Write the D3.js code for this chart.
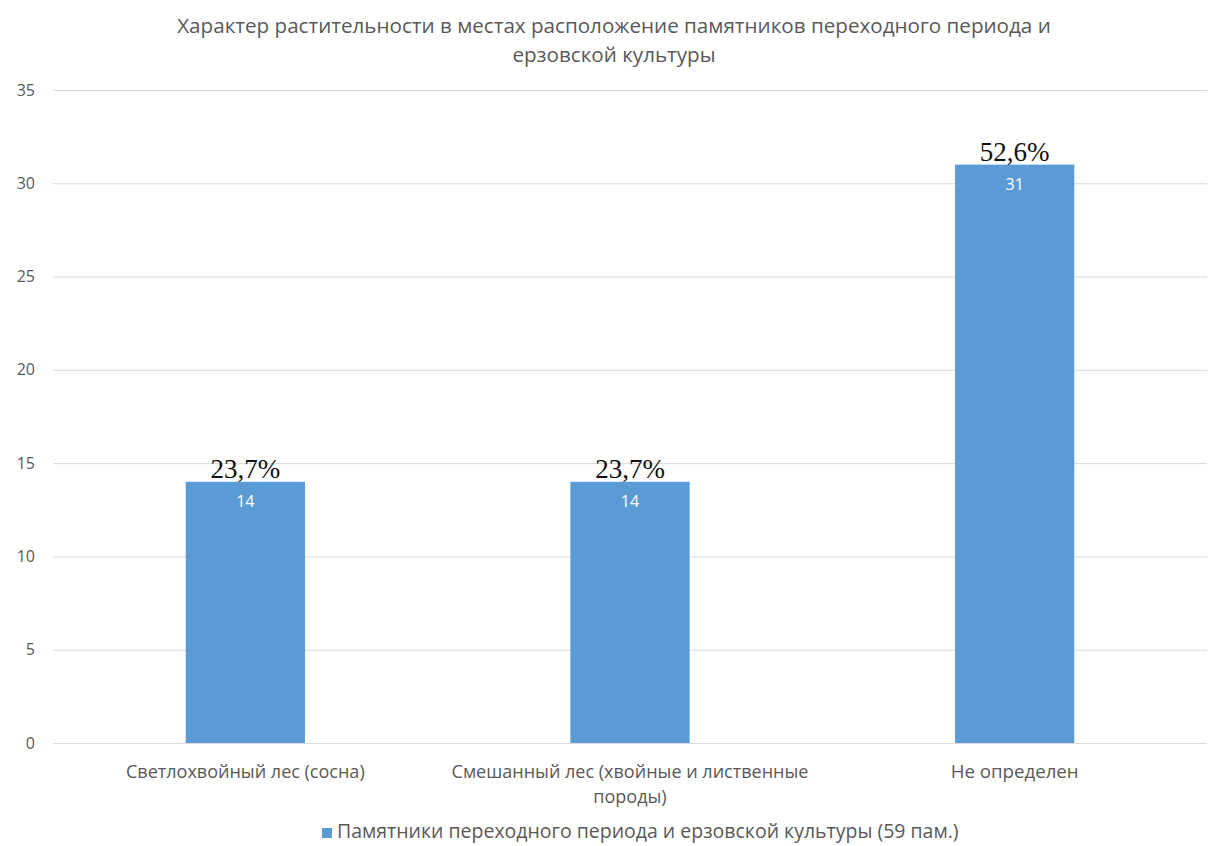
<!DOCTYPE html>
<html><head><meta charset="utf-8">
<script src="https://cdn.jsdelivr.net/npm/d3@7"></script>
<style>body{margin:0;background:#fff}</style>
</head><body>
<svg id="c" width="1218" height="846"></svg>
<script>
const categories = [["Светлохвойный лес (сосна)"], ["Смешанный лес (хвойные и лиственные", "породы)"], ["Не определен"]];
const values = [14, 14, 31];
const percents = ["23,7%", "23,7%", "52,6%"];
const yTicks = [0, 5, 10, 15, 20, 25, 30, 35];
const titleLines = ["Характер растительности в местах расположение памятников переходного периода и", "ерзовской культуры"];
const legendLabel = "Памятники переходного периода и ерзовской культуры (59 пам.)";

const svg = d3.select("#c");
const font = "'Open Sans', sans-serif";
const gray = "#595959";
const m = {l: 53, r: 1207, t: 90, b: 743};
const x = d3.scaleBand().domain(d3.range(values.length)).range([m.l, m.r]).paddingInner(0.69).paddingOuter(0.345);
const y = d3.scaleLinear().domain([0, 35]).range([m.b, m.t]);

function fit(sel, w) {
  const n = sel.node(); const L = n.getComputedTextLength();
  const fs = parseFloat(sel.attr("font-size"));
  sel.attr("font-size", fs * w / L);
}

// title
const t1 = svg.append("text").attr("x", 614).attr("y", 33).attr("text-anchor", "middle").attr("font-family", font).attr("font-size", 17).attr("fill", gray).text(titleLines[0]);
fit(t1, 874);
const fs = t1.attr("font-size");
svg.append("text").attr("x", 614).attr("y", 62).attr("text-anchor", "middle").attr("font-family", font).attr("font-size", fs).attr("fill", gray).text(titleLines[1]);

// grid
const ya = d3.axisLeft(y).tickValues(yTicks).tickSize(-(m.r - m.l)).tickPadding(18);
const g = svg.append("g").attr("transform", `translate(${m.l},0)`).call(ya);
g.select(".domain").remove();
g.selectAll(".tick line").attr("stroke", "#d9d9d9").attr("stroke-width", 1);
g.selectAll(".tick text").attr("font-family", font).attr("font-size", 16).attr("fill", gray);

// bars
svg.selectAll("rect.bar").data(values).join("rect").attr("class", "bar")
  .attr("x", (d, i) => x(i)).attr("width", x.bandwidth())
  .attr("y", d => y(d)).attr("height", d => y(0) - y(d)).attr("fill", "#5b9bd5");

svg.selectAll("text.val").data(values).join("text").attr("class", "val")
  .attr("x", (d, i) => x(i) + x.bandwidth() / 2).attr("y", d => y(d) + 25)
  .attr("text-anchor", "middle").attr("font-family", font).attr("font-size", 16).attr("fill", "#fff").text(d => d);

svg.selectAll("text.pct").data(values).join("text").attr("class", "pct")
  .attr("x", (d, i) => x(i) + x.bandwidth() / 2).attr("y", d => y(d) - 4)
  .attr("text-anchor", "middle").attr("font-family", "'Liberation Serif', 'Times New Roman', serif").attr("font-size", 27).attr("fill", "#111").text((d, i) => percents[i]);

// x labels
const labelWidths = [239, 357, 128];
categories.forEach((lines, i) => {
  let lfs = null;
  lines.forEach((ln, j) => {
    const t = svg.append("text").attr("x", x(i) + x.bandwidth() / 2).attr("y", 778 + j * 25)
      .attr("text-anchor", "middle").attr("font-family", font).attr("font-size", 15).attr("fill", gray).text(ln);
    if (j === 0) { fit(t, labelWidths[i]); lfs = t.attr("font-size"); } else t.attr("font-size", lfs);
  });
});

// legend
svg.append("rect").attr("x", 322).attr("y", 828).attr("width", 10).attr("height", 10).attr("fill", "#5b9bd5");
const lt = svg.append("text").attr("x", 337).attr("y", 838).attr("font-family", font).attr("font-size", 15).attr("fill", gray).text(legendLabel);
fit(lt, 622);
</script>
</body></html>
